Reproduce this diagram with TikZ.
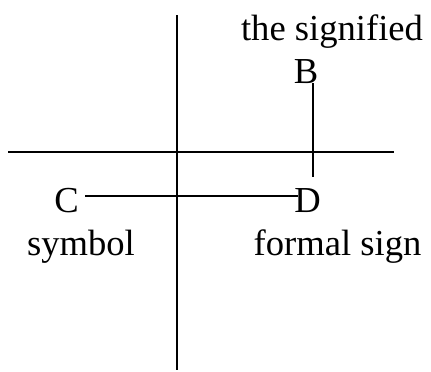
\documentclass[tikz,border=0pt]{standalone}
\usepackage{fontspec}
\setmainfont{Liberation Serif}
\begin{document}
\begin{tikzpicture}[x=1pt,y=-1pt,
  lbl/.style={anchor=base,inner sep=0pt,font=\fontsize{36.6}{40}\selectfont},
  ln/.style={line width=1.8pt,black}]
\useasboundingbox (0,0) rectangle (431,372);
% axes
\coordinate (vt) at (177,15);
\coordinate (vb) at (177,370);
\coordinate (hl) at (8,152);
\coordinate (hr) at (394,152);
\draw[ln] (vt) -- (vb);
\draw[ln] (hl) -- (hr);
% labels
\node[lbl] (sig) at (332,40) {the signified};
\node[lbl] (B) at (306,83) {B};
\node[lbl] (C) at (66.5,212) {C};
\node[lbl] (D) at (307.5,212) {D};
\node[lbl] (sym) at (81,255) {symbol};
\node[lbl] (fs) at (337.5,255) {formal sign};
% connectors
\coordinate (bt) at (313,83);
\coordinate (bb) at (313,177);
\draw[ln] (bt) -- (bb);
\coordinate (cl) at (85,196);
\coordinate (dr) at (298,196);
\draw[ln] (cl) -- (dr);
\end{tikzpicture}
\end{document}
